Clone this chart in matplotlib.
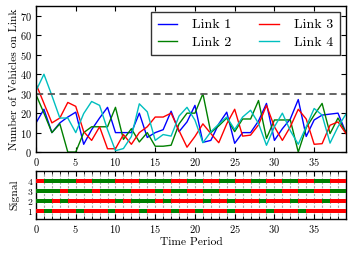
import numpy as np
import matplotlib
matplotlib.use("Agg")
import matplotlib.pyplot as plt

plt.rcParams['font.family'] = 'cmr10'
plt.rcParams['mathtext.fontset'] = 'cm'
plt.rcParams['axes.formatter.use_mathtext'] = True
plt.rcParams['axes.unicode_minus'] = False

# liczba pojazdow na kazdym linku w kolejnych okresach
link1 = [15, 22, 10, 15, 18, 20.5, 4, 11.5, 17.5, 23, 10, 10, 10, 20, 7.5, 10, 11.5, 21, 10.5, 15.5,
         24, 5, 6, 14.5, 20.5, 4.5, 10, 10, 16, 25, 6, 12, 17, 27, 8, 16.5, 19, 19.5, 20, 10]
link2 = [29.5, 20, 10, 14.5, 0, 0, 10, 13, 13, 13, 23, 6.5, 12, 5.2, 10, 3, 3, 3.5, 14.5, 20,
         20, 30, 10, 13.5, 17.5, 10.5, 17, 17, 26.5, 7, 16.5, 16.5, 16.5, 0, 12.5, 19, 25, 9.5, 17.5, 10]
link3 = [35, 25, 15, 17.5, 25.5, 23.5, 10.5, 6, 13, 1.7, 1.7, 9, 4, 10, 13, 18, 18, 20, 11, 2.5,
         8, 14.5, 9.5, 4.8, 14.5, 22, 8.2, 8.7, 14, 24, 13, 6, 13, 22, 17, 4, 4.3, 13.8, 15.5, 9.5]
link4 = [31.5, 40, 29, 17.5, 17.5, 10, 19.8, 26, 24, 11.5, 0.7, 1.8, 8, 24.8, 20.7, 6, 9, 8.2, 18.5, 23,
         16.4, 4.8, 10.4, 14.4, 18, 11.6, 18, 21.5, 14.7, 3.5, 13, 20, 11, 4, 13, 22.4, 19, 4.6, 13, 19.5]
links = [link1, link2, link3, link4]
link_names = ['Link 1', 'Link 2', 'Link 3', 'Link 4']
link_colors = ['b', 'g', 'r', 'c']
capacity = 30

# stan sygnalizacji: R = czerwone, G = zielone
signal1 = "RGRRRGRRRGRRRGRRRGRRGRRRGRRRRGRRRGRRRRR"
signal2 = "GGRGRRRRRRGRGGGRGRRRRGRRGRRRGRRRGRRRGRR"
signal3 = "GGGRGGGRGGGGRRRGRGGRRGGRRGGRRGGRRGGRRGG"
signal4 = "RGGGGRRGGGRRRGGGGRRGGRRGGRRGGRRGGRRGGRR"
signals = [signal1, signal2, signal3, signal4]

fig = plt.figure(figsize=(3.53, 2.56), dpi=100)
ax1 = fig.add_axes([0.102, 0.406, 0.878, 0.570])
ax2 = fig.add_axes([0.102, 0.1445, 0.878, 0.1875])

t = np.arange(len(link1))
for vals, name, c in zip(links, link_names, link_colors):
    ax1.plot(t, vals, color=c, lw=1.0, label=name)
ax1.axhline(capacity, color='0.35', lw=1.3, ls=(0, (4, 2.5)))

ax1.set_xlim(0, 39)
ax1.set_ylim(0, 75)
ax1.set_xticks(np.arange(0, 40, 5))
ax1.set_yticks(np.arange(0, 80, 10))
ax1.set_ylabel('Number of Vehicles on Link', fontsize=8.3)
ax1.yaxis.set_label_coords(-0.055, 0.5)
leg = ax1.legend(loc='upper right', ncol=2, fontsize=10, fancybox=False,
                 handlelength=1.4, handletextpad=1.1, columnspacing=2.0,
                 borderpad=0.45, labelspacing=0.35, borderaxespad=0.45)
leg.get_frame().set_edgecolor('black')
leg.get_frame().set_linewidth(1.0)

# paski sygnalizacji
for i, s in enumerate(signals):
    for k, st in enumerate(s):
        col = 'red' if st == 'R' else 'green'
        ax2.barh(i + 1, 1, left=k, height=0.4, color=col, lw=0, zorder=3)

ax2.set_xlim(0, 39)
ax2.set_ylim(0.2, 5.0)
ax2.set_xticks(np.arange(0, 40, 5))
ax2.set_xticks(np.arange(0, 40, 1), minor=True)
ax2.set_yticks([1, 2, 3, 4])
ax2.grid(True, axis='x', which='both', color='0.65', lw=0.8, ls=(0, (2, 1.5)), zorder=1)
ax2.set_axisbelow(True)
ax2.set_ylabel('Signal', fontsize=8.3)
ax2.yaxis.set_label_coords(-0.055, 0.5)
ax2.set_xlabel('Time Period', fontsize=8.3, labelpad=2)

for ax in [ax1, ax2]:
    ax.tick_params(which='both', direction='in', top=True, right=True, labelsize=7.5)
    ax.tick_params(which='major', length=3.5, width=0.8, pad=3)
    ax.tick_params(which='minor', length=2, width=0.6)
    for sp in ax.spines.values():
        sp.set_linewidth(1.0)
ax2.tick_params(axis='y', labelsize=7, pad=2)

plt.savefig('out.png', dpi=100)
